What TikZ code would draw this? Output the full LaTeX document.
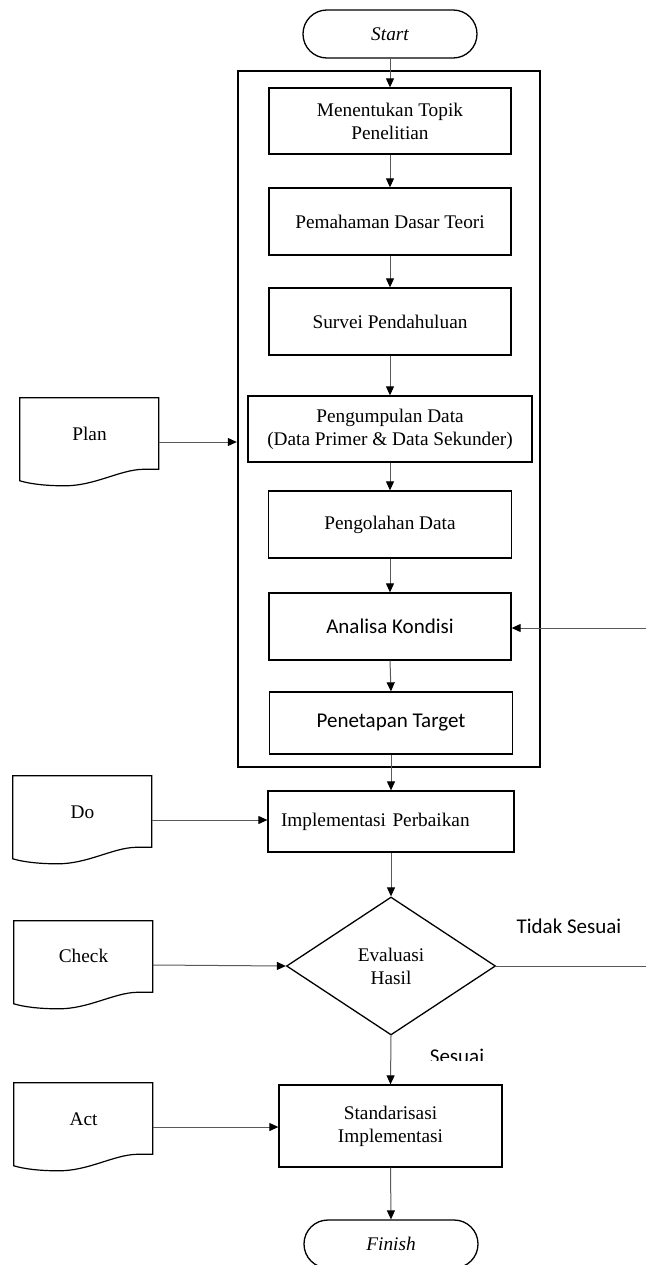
\documentclass[tikz,border=0pt]{standalone}
\usepackage{fontspec}
\setmainfont{Liberation Serif}
\newfontfamily\calibri{Carlito}
\usetikzlibrary{arrows.meta,shapes.geometric,calc}
\newcommand\docshape[1]{%
  \begin{scope}[shift={(#1.north west)}]
    \draw[line width=1.2pt, line join=miter] (0,0) -- (139,0) -- (139,71.5) -- (123,71.5)
      .. controls (100,72) and (75,88) .. (45,88)
      .. controls (25,88) and (10,86) .. (0,83) -- cycle;
  \end{scope}}
\begin{document}
\begin{tikzpicture}[x=1pt,y=-1pt,
  every node/.style={font=\fontsize{19.3}{23}\selectfont},
  box/.style={draw, line width=1.3pt, align=center, inner sep=0pt},
  term/.style={box, rounded corners=23.9pt, minimum width=174pt, minimum height=48pt,
    font=\fontsize{19.3}{23}\selectfont\itshape},
  docnode/.style={minimum width=139pt, minimum height=88pt, inner sep=0pt},
  conn/.style={draw=black!65, line width=1pt, -{Triangle[length=9pt,width=8pt,color=black]}},
  plainline/.style={draw=black!65, line width=1pt},
  cal/.style={font=\fontsize{21}{25}\selectfont\calibri}]
\useasboundingbox (0,0) rectangle (646,1265);

% outer frame
\node[draw, line width=2.4pt, minimum width=302pt, minimum height=696pt, inner sep=0pt] (frame) at (389,419) {};

% main column
\node[term] (start) at (390,34) {Start};
\node[box, minimum width=242pt, minimum height=66pt] (b1) at (390,121) {Menentukan Topik\\Penelitian};
\node[box, minimum width=242pt, minimum height=67pt] (b2) at (390,221.5) {Pemahaman Dasar Teori};
\node[box, minimum width=242pt, minimum height=67pt] (b3) at (390,321.5) {Survei Pendahuluan};
\node[box, minimum width=284pt, minimum height=66pt] (b4) at (390,429) {Pengumpulan Data\\(Data Primer \& Data Sekunder)};
\node[box, minimum width=243pt, minimum height=67pt] (b5) at (390,524.5) {Pengolahan Data};
\node[box, cal, minimum width=242pt, minimum height=67pt] (b6) at (390,626.5) {Analisa Kondisi};
\node[box, cal, minimum width=243pt, minimum height=62pt] (b7) at (391,723) {Penetapan Target};
\node[box, minimum height=61pt, text width=220pt, inner xsep=13pt, align=left] (b8) at (391,821.5) {Implementasi Perbaikan};
\node[box, diamond, aspect=1.5, minimum width=209pt, minimum height=138pt] (dia) at (391,966) {Evaluasi\\Hasil};
\node[box, minimum width=223pt, minimum height=82pt] (b9) at (390.5,1126) {Standarisasi\\Implementasi};
\node[term] (finish) at (391,1244) {Finish};

% document shapes
\node[docnode, label={[yshift=8pt]center:Plan}] (plan) at (89.5,442) {};
\node[docnode, label={[yshift=8pt]center:Do}] (do) at (82.5,820) {};
\node[docnode, label={[yshift=9pt]center:Check}] (check) at (83.5,965) {};
\node[docnode, label={[yshift=8pt]center:Act}] (act) at (83.5,1127) {};
\docshape{plan}
\docshape{do}
\docshape{check}
\docshape{act}

% connectors
\draw[conn] (start.south) -- (b1.north);
\draw[conn] (b1.south) -- (b2.north);
\draw[conn] (b2.south) -- (b3.north);
\draw[conn] (b3.south) -- (b4.north);
\draw[conn] (b4.south) -- (b5.north);
\draw[conn] (b5.south) -- (b6.north);
\draw[conn] (b6.south) -- (b7.north);
\draw[conn] (b7.south) -- (b8.north);
\draw[conn] (b8.south) -- (dia.north);
\draw[conn] (dia.south) -- (b9.north);
\draw[conn] (b9.south) -- (finish.north);

\draw[conn] (plan.east) -- (frame.west |- plan.east);
\draw[conn] (do.east) -- (b8.west |- do.east);
\draw[conn] (check.east) -- (dia.west);
\draw[conn] (act.east) -- (b9.west |- act.east);

\coordinate (tsR) at (646,966);
\coordinate (akR) at (646,628);
\draw[plainline] (dia.east) -- (tsR);
\draw[conn] (akR) -- (b6.east |- akR);

% labels
\node[cal] (tidak) at (569,926) {Tidak Sesuai};
\begin{scope}
  \clip (400,1040) rectangle (520,1060);
  \node[cal, anchor=base] (sesuai) at (457,1063.5) {Sesuai};
\end{scope}
\end{tikzpicture}
\end{document}
